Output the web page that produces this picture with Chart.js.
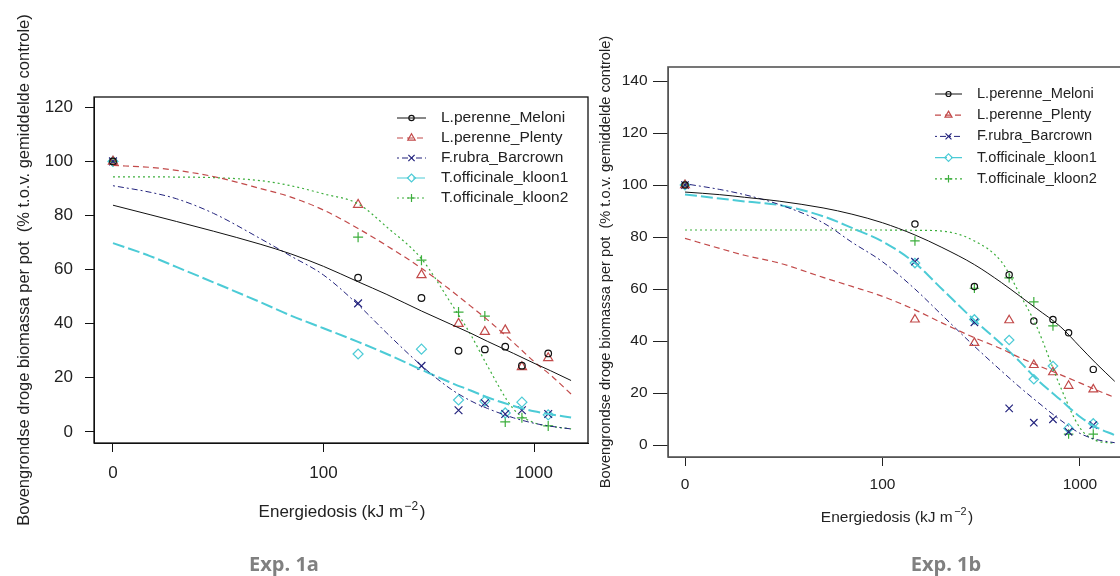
<!DOCTYPE html>
<html>
<head>
<meta charset="utf-8">
<script src="https://cdn.jsdelivr.net/npm/chart.js@4.4.0/dist/chart.umd.min.js"></script>
<style>
html,body{margin:0;padding:0;background:#fff;width:1120px;height:576px;overflow:hidden;position:relative}
#wa{position:absolute;left:0;top:0;width:595px;height:576px}
#wb{position:absolute;left:595px;top:0;width:550px;height:576px}
.cap{position:absolute;top:554px;width:200px;text-align:center;font:700 20px/20px "Open Sans",sans-serif;color:#808080}
#capA{left:184px}
#capB{left:846px}
</style>
</head>
<body>
<div id="wa"><canvas id="ca" width="595" height="576"></canvas></div>
<div id="wb"><canvas id="cb" width="550" height="576"></canvas></div>
<div class="cap" id="capA">Exp. 1a</div>
<div class="cap" id="capB">Exp. 1b</div>
<script>
// ---------- data ----------
const seriesNames = ['L.perenne_Meloni', 'L.perenne_Plenty', 'F.rubra_Barcrown', 'T.officinale_kloon1', 'T.officinale_kloon2'];
const yTitle = 'Bovengrondse droge biomassa per pot  (% t.o.v. gemiddelde controle)';
const xTitleParts = ['Energiedosis (kJ m', '\u22122', ')'];

const doses = [0, 146, 292, 438, 584, 730, 876, 1168];
const fitDoses = [0, 15, 20, 30, 50, 70, 100, 146, 200, 292, 400, 500, 600, 800, 1000, 1200, 1500];
const ZERO_POS = 10;               // dose 0 is drawn one decade below 100 on the log axis
const xTickValues = [0, 100, 1000];
const xTickLabels = ['0', '100', '1000'];
const yTicksA = [0, 20, 40, 60, 80, 100, 120];
const yTicksB = [0, 20, 40, 60, 80, 100, 120, 140];

// Exp. 1a observed
const a_meloni  = [100, 57, 49.5, 30, 30.5, 31.5, 24.5, 29];
const a_plenty  = [100, 84, 58, 40, 37, 37.6, 24, 27.3];
const a_barcrown= [100, 47.5, 24.4, 8, 10.6, 6.6, 8, 6.6];
const a_kloon1  = [100, 28.8, 30.6, 11.8, 11.4, 7, 11, 6.3];
const a_kloon2  = [100, 72, 63.5, 44.3, 42.8, 3.7, 5.2, 2.2];
// Exp. 1a fitted curves (at fitDoses)
const a_meloni_fit   = [83.8, 80.3, 77.8, 74.2, 69.4, 65.8, 61.2, 55.5, 50.8, 44.7, 39.9, 36.5, 33.5, 29, 25.4, 22.6, 19];
const a_plenty_fit   = [98.5, 97.8, 96.7, 94.4, 90, 86.8, 82, 75.2, 68.8, 60.5, 52.5, 46.5, 41.5, 33, 26, 21, 14];
const a_barcrown_fit = [91, 88.6, 86.2, 80.8, 71.5, 65, 58, 47, 36.5, 24.5, 16, 11.5, 8.7, 5.2, 3.2, 2.1, 1.1];
const a_kloon1_fit   = [69.8, 65, 61, 55.3, 48, 43, 38.3, 33.3, 28.8, 23, 18.3, 15.3, 12.8, 9.6, 7.6, 6.5, 5.3];
const a_kloon2_fit   = [94.3, 94.3, 94.2, 94, 92.9, 91, 88, 84.3, 75.7, 64, 48, 36, 24.5, 8.4, 3.4, 2.1, 1.1];

// Exp. 1b observed
const b_meloni  = [100, 85, 61, 65.5, 47.7, 48.3, 43.2, 29.1];
const b_plenty  = [100, 48.3, 39.3, 48, 30.8, 28, 22.8, 21.4];
const b_barcrown= [100, 70.5, 47.2, 14.1, 8.6, 9.9, 5.1, 7.7];
const b_kloon1  = [100, 70, 48.3, 40.4, 25.3, 30.4, 6.4, 8.3];
const b_kloon2  = [100, 78.5, 60.3, 64.3, 55.1, 45.8, 4.2, 4.2];
// Exp. 1b fitted curves (at fitDoses)
const b_meloni_fit   = [97.3, 96.3, 95.3, 93.8, 91.2, 88.8, 85.5, 80.8, 76, 69.4, 62.5, 57.1, 52.6, 45.4, 37.8, 31.6, 24.5];
const b_plenty_fit   = [79.5, 75.6, 73, 70, 64.5, 61, 57.2, 52, 47, 41.3, 37, 33.5, 30.9, 27, 23.9, 21.3, 18.3];
const b_barcrown_fit = [100.5, 98.3, 96.3, 92.5, 85.5, 78, 70.5, 60, 50, 38, 28.5, 22, 17, 9.5, 4.5, 2.2, 0.9];
const b_kloon1_fit   = [96.4, 94.8, 93.7, 92.3, 88, 83.5, 78.3, 70, 60, 48, 38.9, 31.8, 25.5, 17.3, 10.9, 7, 3.8];
const b_kloon2_fit   = [82.7, 82.7, 82.7, 82.7, 82.7, 82.7, 82.7, 82.6, 82.3, 78.5, 70.5, 57.5, 46, 22, 6.6, 1.8, 0.7];

// ---------- styles ----------
const styles = [
  {color: '#111111', dash: [],            lw: 1,   point: 'circle',   r: 3.3},
  {color: '#c24a4a', dash: [6, 4],        lw: 1.2, point: 'triangle', r: 5.3},
  {color: '#23237d', dash: [2, 3, 6, 3],  lw: 1,   point: 'crossRot', r: 5.5},
  {color: '#4ccbd6', dash: [12, 4],       lw: 2,   point: 'rectRot',  r: 5},
  {color: '#3cae3c', dash: [2, 3],        lw: 1.2, point: 'cross',    r: 5}
];
const FONT = '"Liberation Sans", Arial, sans-serif';
Chart.defaults.font.family = FONT;
Chart.defaults.color = '#222';

const toX = d => (d === 0 ? ZERO_POS : d);
const pts = (xs, ys) => xs.map((d, i) => ({x: toX(d), y: ys[i]}));

function drawMarker(ctx, st, x, y, scale) {
  const H = Chart.helpers;
  ctx.save();
  ctx.setLineDash([]);
  ctx.strokeStyle = st.color;
  ctx.fillStyle = 'rgba(0,0,0,0)';
  ctx.lineWidth = 1.2;
  H.drawPoint(ctx, {pointStyle: st.point, radius: st.r * scale, borderWidth: 1.2, rotation: 0}, x, y);
  ctx.restore();
}

const decor = {
  id: 'decor',
  afterDraw(chart, args, o) {
    const {ctx, chartArea: ca} = chart;
    ctx.save();
    // frame
    ctx.strokeStyle = o.boxColor;
    ctx.lineWidth = o.boxWidth;
    ctx.setLineDash([]);
    ctx.strokeRect(ca.left, ca.top, ca.right - ca.left, ca.bottom - ca.top);
    // x title with superscript
    const fs = o.xTitleSize;
    ctx.fillStyle = '#222';
    ctx.textBaseline = 'alphabetic';
    ctx.textAlign = 'left';
    ctx.font = fs + 'px ' + FONT;
    const w1 = ctx.measureText(xTitleParts[0]).width;
    const w3 = ctx.measureText(xTitleParts[2]).width;
    ctx.font = (fs * 0.7) + 'px ' + FONT;
    const w2 = ctx.measureText(xTitleParts[1]).width;
    const gap = 1.5;
    let x0 = o.xTitleX - (w1 + w2 + w3 + 2 * gap) / 2;
    ctx.font = fs + 'px ' + FONT;
    ctx.fillText(xTitleParts[0], x0, o.xTitleY);
    ctx.font = (fs * 0.7) + 'px ' + FONT;
    ctx.fillText(xTitleParts[1], x0 + w1 + gap, o.xTitleY - fs * 0.42);
    ctx.font = fs + 'px ' + FONT;
    ctx.fillText(xTitleParts[2], x0 + w1 + w2 + 2 * gap, o.xTitleY);
    // legend
    ctx.font = o.legSize + 'px ' + FONT;
    ctx.textBaseline = 'middle';
    seriesNames.forEach((name, i) => {
      const st = styles[i];
      const y = o.legY0 + i * o.legDy;
      ctx.save();
      ctx.strokeStyle = st.color;
      ctx.lineWidth = Math.min(st.lw, 1.2);
      ctx.setLineDash(st.dash);
      ctx.beginPath();
      ctx.moveTo(o.legX1, y);
      ctx.lineTo(o.legX2, y);
      ctx.stroke();
      ctx.restore();
      drawMarker(ctx, st, (o.legX1 + o.legX2) / 2, y, o.mScale * 0.8);
      ctx.fillStyle = '#222';
      ctx.fillText(name, o.legTX, y);
    });
    ctx.restore();
  }
};

function makeChart(id, obs, fits, g) {
  const datasets = [];
  fits.forEach((f, i) => {
    const st = styles[i];
    datasets.push({
      label: seriesNames[i] + ' fit', data: pts(fitDoses, f), showLine: true,
      borderColor: st.color, borderWidth: st.lw, borderDash: st.dash,
      pointRadius: 0, cubicInterpolationMode: 'monotone', fill: false
    });
  });
  obs.forEach((o, i) => {
    const st = styles[i];
    datasets.push({
      label: seriesNames[i], data: pts(doses, o), showLine: false,
      pointStyle: st.point, pointRadius: st.r * g.mScale, pointBorderWidth: 1.2,
      pointBorderColor: st.color, pointBackgroundColor: 'rgba(0,0,0,0)'
    });
  });
  return new Chart(document.getElementById(id), {
    type: 'scatter',
    data: {datasets},
    plugins: [decor],
    options: {
      responsive: false, animation: false, events: [],
      layout: {padding: g.padding},
      plugins: {
        legend: {display: false}, tooltip: {enabled: false},
        decor: g.decor
      },
      scales: {
        x: {
          type: 'logarithmic', min: g.xMin, max: g.xMax,
          afterFit: s => { s.height = 60; },
          afterBuildTicks: s => { s.ticks = xTickValues.map(v => ({value: toX(v)})); },
          ticks: {
            callback: (v, i) => xTickLabels[i], autoSkip: false, maxRotation: 0,
            padding: g.xTickPad, color: '#222', font: {size: g.tickSize}
          },
          grid: {drawOnChartArea: false, drawTicks: true, tickLength: 9, color: g.tickColor},
          border: {display: true, color: g.decor.boxColor},
          title: {display: false}
        },
        y: {
          type: 'linear', min: g.yMin, max: g.yMax,
          afterFit: s => { s.width = g.yWidth; },
          afterBuildTicks: s => { s.ticks = g.yTicks.map(v => ({value: v})); },
          ticks: {padding: g.yTickPad, color: '#222', font: {size: g.tickSize}},
          grid: {drawOnChartArea: false, drawTicks: true, tickLength: g.yTickLen, color: g.tickColor},
          border: {display: true, color: g.decor.boxColor},
          title: {display: true, text: yTitle, color: '#222', font: {size: g.yTitleSize}, padding: {top: g.yTitlePad, bottom: 0}}
        }
      }
    }
  });
}

makeChart('ca',
  [a_meloni, a_plenty, a_barcrown, a_kloon1, a_kloon2],
  [a_meloni_fit, a_plenty_fit, a_barcrown_fit, a_kloon1_fit, a_kloon2_fit],
  {
    padding: {left: 0, right: 7, top: 97, bottom: 73},
    xMin: 8.125, xMax: 1805, yMin: -4.1, yMax: 123.8,
    yWidth: 94, yTicks: yTicksA, yTickLen: 9, yTickPad: 12, xTickPad: 11,
    tickSize: 17, yTitleSize: 16.5, yTitlePad: 15, tickColor: '#111', mScale: 1,
    decor: {boxColor: '#111', boxWidth: 1.3, xTitleSize: 17, xTitleX: 342, xTitleY: 517,
            legSize: 15.5, legY0: 118, legDy: 20, legX1: 397, legX2: 426, legTX: 441, mScale: 1}
  });

makeChart('cb',
  [b_meloni, b_plenty, b_barcrown, b_kloon1, b_kloon2],
  [b_meloni_fit, b_plenty_fit, b_barcrown_fit, b_kloon1_fit, b_kloon2_fit],
  {
    padding: {left: 0, right: 13.5, top: 67, bottom: 59},
    xMin: 8.2, xMax: 1824, yMin: -4.6, yMax: 145.4,
    yWidth: 73, yTicks: yTicksB, yTickLen: 15, yTickPad: 5.5, xTickPad: 9,
    tickSize: 15.5, yTitleSize: 14.6, yTitlePad: 2.2, tickColor: '#222', mScale: 0.95,
    decor: {boxColor: '#555', boxWidth: 1.6, xTitleSize: 15.5, xTitleX: 302, xTitleY: 522,
            legSize: 14.6, legY0: 94, legDy: 21.2, legX1: 340, legX2: 367, legTX: 382, mScale: 0.95}
  });
</script>
</body>
</html>
